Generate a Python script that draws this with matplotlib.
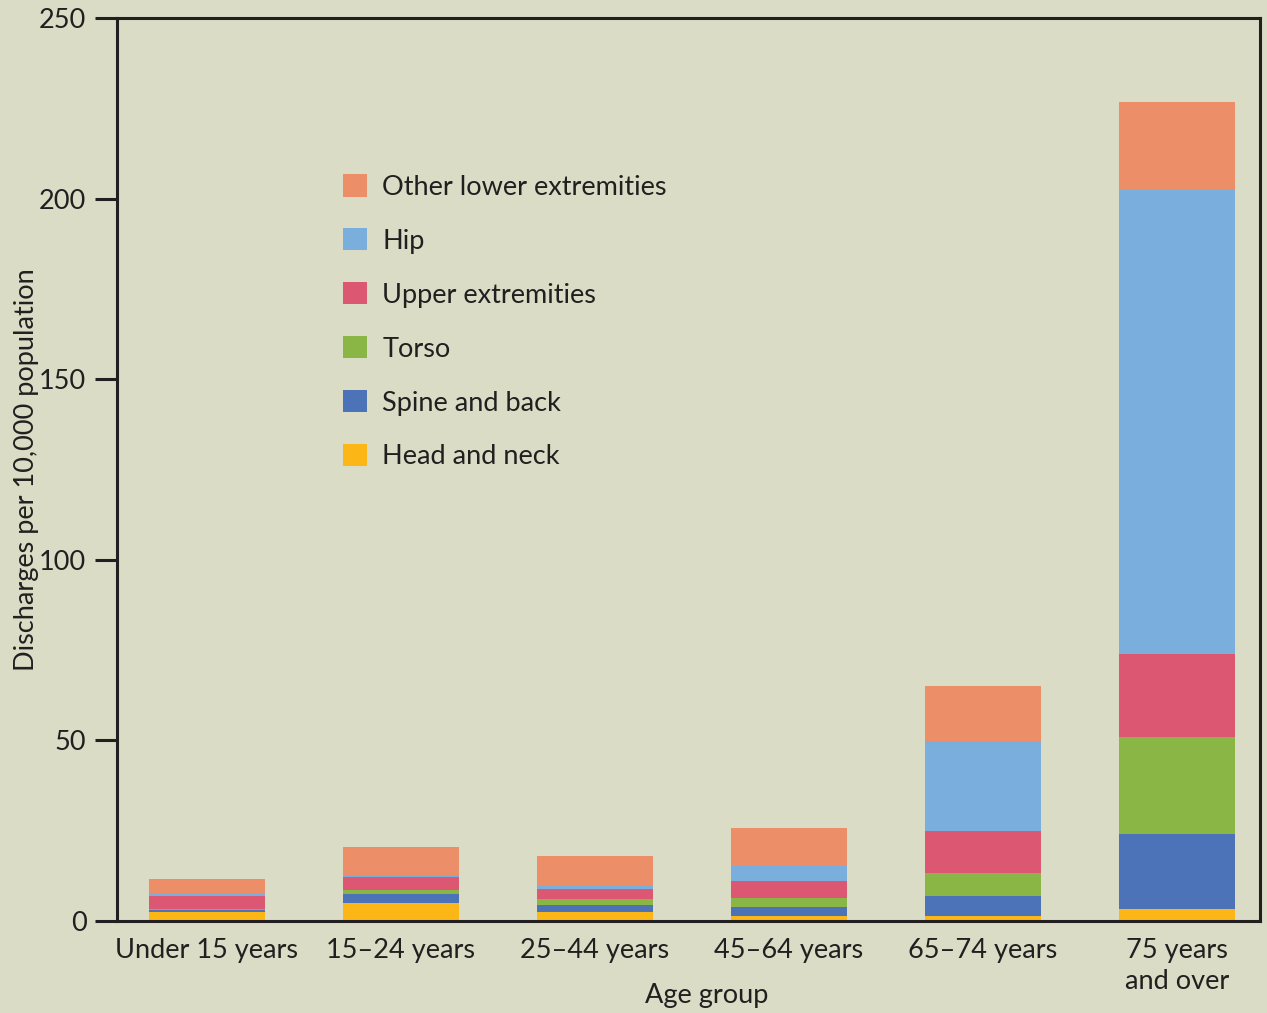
import numpy as np
import matplotlib
matplotlib.use("Agg")
from matplotlib import pyplot as plt
from matplotlib.patches import Patch

plt.rcParams["font.family"] = ["Lato", "DejaVu Sans"]

groups = ["Under 15 years", "15\u201324 years", "25\u201344 years",
          "45\u201364 years", "65\u201374 years", "75 years\nand over"]
head_neck = [2.5, 5.0, 2.5, 1.4, 1.4, 3.3]
spine_back = [0.5, 2.5, 1.9, 2.5, 5.5, 20.8]
torso = [0.2, 1.1, 1.7, 2.5, 6.4, 26.8]
upper_ext = [3.8, 3.6, 2.8, 4.7, 11.6, 23.0]
hip = [0.4, 0.6, 0.7, 4.0, 24.9, 128.5]
other_lower = [4.1, 7.7, 8.4, 10.7, 15.2, 24.3]

series = [
    ("Head and neck", head_neck, "#FCB716"),
    ("Spine and back", spine_back, "#4C72B8"),
    ("Torso", torso, "#8AB646"),
    ("Upper extremities", upper_ext, "#DC5872"),
    ("Hip", hip, "#7AAEDD"),
    ("Other lower extremities", other_lower, "#EC8F68"),
]

bg = "#DADCC5"
ink = "#231F20"
fs = 19.5

fig = plt.figure(figsize=(12.67, 10.13), dpi=100, facecolor=bg)
ax = fig.add_axes([0.0923, 0.0908, 0.9022, 0.8914], facecolor=bg)

x = np.arange(len(groups))
bottom = np.zeros(len(groups))
for name, vals, color in series:
    ax.bar(x, vals, width=0.6, bottom=bottom, color=color, label=name, linewidth=0)
    bottom += np.array(vals)

ax.set_xlim(-0.464, 5.428)
ax.set_ylim(0, 250)
ax.set_yticks([0, 50, 100, 150, 200, 250])
ax.set_xticks(x)
ax.set_xticklabels(groups, fontsize=fs, color=ink, linespacing=1.3)
ax.tick_params(axis="x", length=0, pad=12)
ax.tick_params(axis="y", length=16, width=2.2, color=ink, labelsize=fs,
               labelcolor=ink, pad=6)
for sp in ax.spines.values():
    sp.set_linewidth(2.2)
    sp.set_color(ink)

fig.text(707 / 1267, 1 - 995 / 1013, "Age group", fontsize=fs, color=ink,
         ha="center", va="center")
ax.set_ylabel("Discharges per 10,000 population", fontsize=fs, color=ink, labelpad=0)

handles = [Patch(facecolor=c, label=n) for n, v, c in reversed(series)]
ax.legend(handles=handles, loc="upper left", bbox_to_anchor=(0.198, 0.827),
          frameon=False, fontsize=fs, handlelength=0.89, handleheight=0.89,
          handletextpad=0.55, labelspacing=1.05, borderpad=0, borderaxespad=0,
          labelcolor=ink)

fig.savefig("out.png", dpi=100, facecolor=bg)
